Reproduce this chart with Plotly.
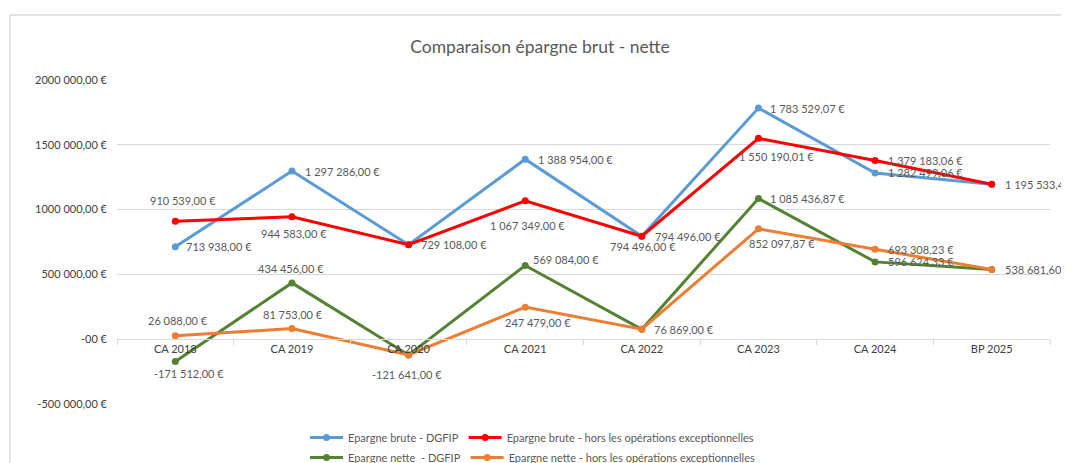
import plotly.graph_objects as go

categories = ["CA 2018", "CA 2019", "CA 2020", "CA 2021", "CA 2022", "CA 2023", "CA 2024", "BP 2025"]
brute_dgfip = [713938.00, 1297286.00, 729108.00, 1388954.00, 794496.00, 1783529.07, 1282499.06, 1195533.42]
brute_hors = [910539.00, 944583.00, 729108.00, 1067349.00, 794496.00, 1550190.01, 1379183.06, 1195533.42]
nette_dgfip = [-171512.00, 434456.00, -121641.00, 569084.00, 76869.00, 1085436.87, 596624.33, 538681.60]
nette_hors = [26088.00, 81753.00, -121641.00, 247479.00, 76869.00, 852097.87, 693308.23, 538681.60]
names = ["Epargne brute - DGFIP", "Epargne brute - hors les opérations exceptionnelles",
         "Epargne nette  - DGFIP", "Epargne nette - hors les opérations exceptionnelles"]
ytick_vals = [-500000, 0, 500000, 1000000, 1500000, 2000000]
ytick_text = ["-500 000,00 €", "-00 €", "500 000,00 €", "1000 000,00 €", "1500 000,00 €", "2000 000,00 €"]

colors = ["#5B9BD5", "#FF0000", "#548235", "#ED7D31"]

# label placement: (kind, dx, dy) kind r=right of point, c=centered; dy positive = up (px)
placements = [
    [("r", 9, 0), ("r", 11, 0), ("r", 10, 0), ("r", 11, 0), ("r", 11, 0), ("r", 10, 0), ("r", 11, 0), ("r", 11, 0)],
    [("c", 8, 21), ("c", 2, -17), ("r", 10, 0), ("c", 2, -25), ("c", 1, -10), ("c", 18, -18), ("r", 11, 0), ("r", 11, 0)],
    [("c", 14, -12), ("c", -1, 14), ("c", -2, -20), ("r", 6, 6), ("r", 10, 0), ("r", 10, 0), ("r", 11, 0), ("r", 11, 0)],
    [("c", 3, 15), ("c", 1, 14), ("c", -2, -20), ("c", 13, -15), ("r", 10, 0), ("c", 24, -15), ("r", 11, 0), ("r", 11, 0)],
]


def fr(v):
    s = f"{abs(v):,.2f}".replace(",", " ").replace(".", ",")
    return ("-" if v < 0 else "") + s + " €"


series = [brute_dgfip, brute_hors, nette_dgfip, nette_hors]
legends = ["legend", "legend", "legend2", "legend2"]

fig = go.Figure()
for s, n, c, lg in zip(series, names, colors, legends):
    fig.add_trace(go.Scatter(
        x=categories, y=s, name=n, mode="lines+markers",
        line=dict(color=c, width=3), marker=dict(color=c, size=7),
        legend=lg, hoverinfo="skip",
    ))

annotations = []
seen = set()
for s, pl in zip(series, placements):
    for cat, v, (kind, dx, dy) in zip(categories, s, pl):
        key = (cat, fr(v), kind, dx, dy)
        if key in seen:
            continue  # identical label drawn exactly on top of another one
        seen.add(key)
        annotations.append(dict(
            x=cat, y=v, xref="x", yref="y", text=fr(v), showarrow=False,
            xanchor="left" if kind == "r" else "center", yanchor="middle",
            xshift=dx, yshift=dy,
            font=dict(family="Lato", size=11, color="#595959"),
        ))

# page body has an 8px margin: figure coordinates = window coordinates - 8
FW, FH = 1069, 480
L, T, W, H = 109, 72, 933, 324


def px(xp):
    return (xp - L) / W


def py(yp):
    return 1 - (yp - T) / H


shapes = [
    dict(type="line", xref="paper", yref="paper", x0=px(2), x1=px(FW), y0=py(7), y1=py(7),
         line=dict(color="#d9d9d9", width=1.5)),
    dict(type="line", xref="paper", yref="paper", x0=px(2), x1=px(2), y0=py(7), y1=py(FH),
         line=dict(color="#d9d9d9", width=1.5)),
]

legend_style = dict(orientation="h", xref="container", yref="container",
                    xanchor="left", yanchor="top", itemwidth=33,
                    font=dict(family="Lato", size=11, color="#595959"), bgcolor="rgba(0,0,0,0)")

fig.update_layout(
    width=FW, height=FH,
    margin=dict(l=L, r=FW - L - W, t=T, b=FH - T - H, autoexpand=False),
    paper_bgcolor="white", plot_bgcolor="white",
    font=dict(family="Lato", color="#404040"),
    title=dict(text="Comparaison épargne brut - nette", xref="container", yref="container",
               x=532 / FW, y=1 - 39 / FH, xanchor="center", yanchor="middle",
               font=dict(family="Lato", size=17.5, color="#595959")),
    xaxis=dict(type="category", range=[-0.5, 7.5], anchor="free", position=0.2,
               showline=True, linecolor="#d9d9d9", linewidth=1,
               ticks="outside", ticklen=5, tickcolor="#d9d9d9", tickson="boundaries",
               showgrid=False, tickfont=dict(family="Lato", size=11, color="#404040")),
    yaxis=dict(range=[-500000, 2000000], tickvals=ytick_vals, ticktext=ytick_text,
               showgrid=True, gridcolor="#d9d9d9", gridwidth=1, zeroline=False,
               ticklabelstandoff=9, tickfont=dict(family="Lato", size=11, color="#404040")),
    legend=dict(x=297 / FW, y=1 - 415 / FH, **legend_style),
    legend2=dict(x=297 / FW, y=1 - 435 / FH, **legend_style),
    annotations=annotations,
    shapes=shapes,
    showlegend=True,
)

fig.write_html("out.html")
